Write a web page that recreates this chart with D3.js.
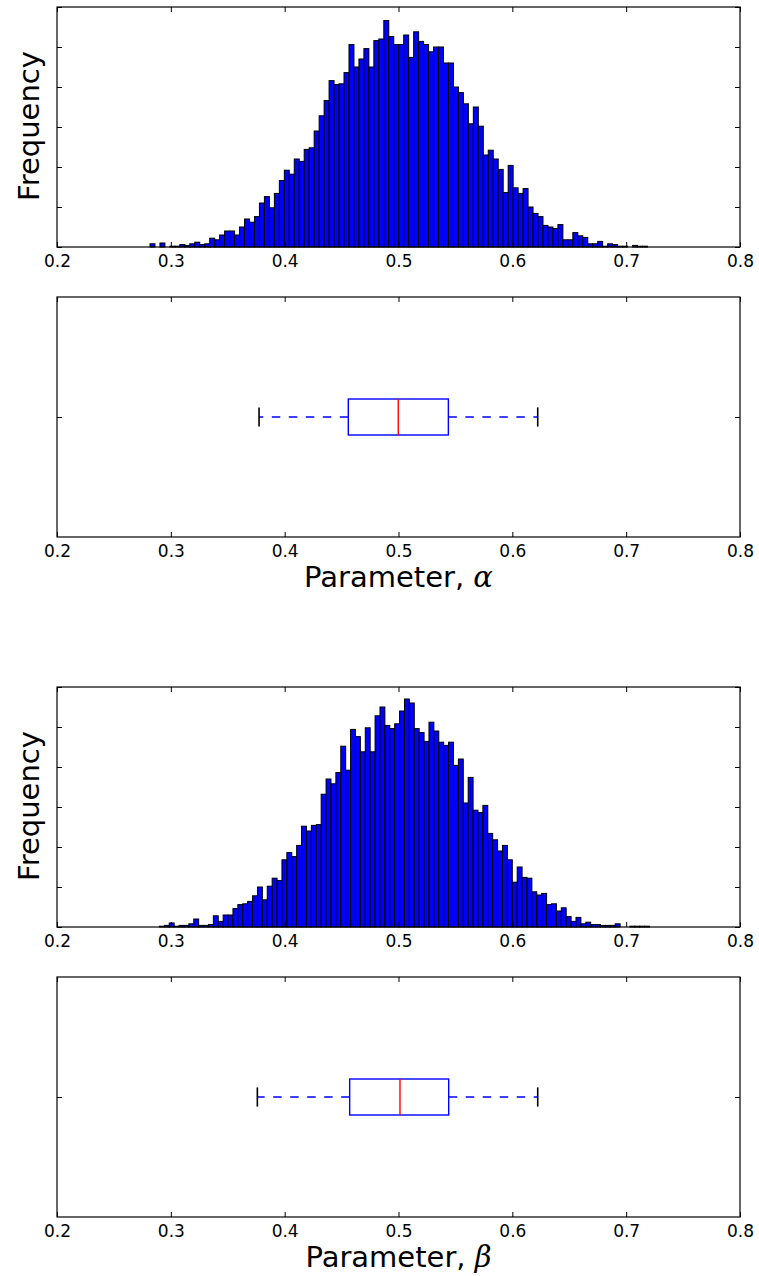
<!DOCTYPE html>
<html>
<head>
<meta charset="utf-8">
<script src="https://d3js.org/d3.v7.min.js"></script>
<style>
  * { margin: 0; padding: 0; }
  body { background: #fff; }
  svg text { font-family: "DejaVu Sans", sans-serif; fill: #000; }
</style>
</head>
<body>
<div id="chart"></div>
<script>
// x axis ticks shared by all four panels
const xTicks = [0.2, 0.3, 0.4, 0.5, 0.6, 0.7, 0.8];
const freqTicks = [0, 50, 100, 150, 200, 250, 300];

// histogram of alpha: 100 equal bins between alphaRange[0] and alphaRange[1]
const alphaRange = [0.2817, 0.7187];
const alphaCounts = [
  4, 0, 5, 0, 1, 1, 3, 2, 4, 6,
  3, 4, 11, 9, 15, 20, 20, 15, 25, 35,
  31, 38, 55, 63, 49, 67, 83, 96, 91, 110,
  107, 122, 124, 145, 164, 183, 208, 203, 204, 218,
  253, 225, 235, 248, 225, 258, 260, 283, 263, 253,
  253, 265, 237, 269, 257, 253, 244, 250, 250, 230,
  230, 200, 193, 179, 154, 175, 151, 115, 121, 110,
  97, 68, 102, 74, 67, 73, 50, 42, 38, 27,
  25, 23, 28, 9, 9, 18, 14, 12, 4, 4,
  7, 1, 4, 3, 1, 1, 0, 2, 1, 1
];

// histogram of beta
const betaRange = [0.2900, 0.7205];
const betaCounts = [
  1, 2, 5, 1, 2, 2, 4, 10, 2, 2,
  3, 14, 7, 15, 15, 23, 28, 29, 32, 39,
  50, 34, 51, 61, 58, 84, 93, 88, 102, 126,
  120, 127, 128, 166, 185, 179, 193, 226, 196, 247,
  238, 219, 249, 219, 264, 275, 252, 248, 254, 270,
  285, 280, 248, 243, 232, 256, 245, 231, 227, 231,
  202, 210, 155, 187, 146, 143, 152, 117, 109, 95,
  102, 84, 56, 75, 62, 61, 44, 40, 42, 28,
  29, 20, 24, 13, 7, 12, 4, 6, 3, 3,
  2, 2, 2, 4, 0, 0, 1, 1, 1, 1
];

// box plots: [lower whisker, q1, median, q3, upper whisker]
const alphaBox = [0.3775, 0.4559, 0.4998, 0.5438, 0.6223];
const betaBox = [0.3760, 0.4571, 0.5013, 0.5441, 0.6223];

const width = 759, height = 1276;
const left = 57, right = 740;
const tickLen = 5;

const svg = d3.select('#chart')
  .append('svg')
  .attr('width', width)
  .attr('height', height);

svg.append('rect').attr('width', width).attr('height', height).attr('fill', '#fff');

const x = d3.scaleLinear().domain([0.2, 0.8]).range([left, right]);

// frame + inward ticks on four sides
function frame(g, y, top, bottom, yTicks, showLabels) {
  const h = bottom - top;
  g.append('g')
    .attr('transform', `translate(0,${bottom})`)
    .call(d3.axisBottom(x).tickValues(xTicks).tickSizeInner(-tickLen).tickSizeOuter(0)
      .tickPadding(7.5).tickFormat(showLabels ? d3.format('.1f') : ''))
    .call(a => a.select('.domain').remove())
    .call(a => a.selectAll('text').attr('font-size', 17).attr('font-family', 'DejaVu Sans'));
  g.append('g')
    .attr('transform', `translate(0,${top})`)
    .call(d3.axisTop(x).tickValues(xTicks).tickSizeInner(-tickLen).tickSizeOuter(0).tickFormat(''))
    .call(a => a.select('.domain').remove());
  g.append('g')
    .attr('transform', `translate(${left},0)`)
    .call(d3.axisLeft(y).tickValues(yTicks).tickSizeInner(-tickLen).tickSizeOuter(0).tickFormat(''))
    .call(a => a.select('.domain').remove());
  g.append('g')
    .attr('transform', `translate(${right},0)`)
    .call(d3.axisRight(y).tickValues(yTicks).tickSizeInner(-tickLen).tickSizeOuter(0).tickFormat(''))
    .call(a => a.select('.domain').remove());
  g.selectAll('.tick line').attr('stroke', '#000').attr('stroke-width', 1);
  g.append('rect')
    .attr('x', left).attr('y', top)
    .attr('width', right - left).attr('height', h)
    .attr('fill', 'none').attr('stroke', '#000').attr('stroke-width', 1.2);
}

function histogram(top, bottom, range, counts) {
  const g = svg.append('g');
  const y = d3.scaleLinear().domain([0, 300]).range([bottom, top]);
  const n = counts.length;
  const bw = (range[1] - range[0]) / n;
  const bins = counts.map((c, i) => ({ x0: range[0] + i * bw, x1: range[0] + (i + 1) * bw, c: c }));
  g.selectAll('rect.bar')
    .data(bins)
    .enter()
    .append('rect')
    .attr('class', 'bar')
    .attr('x', d => x(d.x0))
    .attr('width', d => x(d.x1) - x(d.x0))
    .attr('y', d => y(d.c))
    .attr('height', d => y(0) - y(d.c))
    .attr('fill', '#0000ff')
    .attr('stroke', '#000')
    .attr('stroke-width', 1);
  frame(g, y, top, bottom, freqTicks, true);
  g.append('text')
    .attr('transform', `translate(39,${(top + bottom) / 2 - 1}) rotate(-90)`)
    .attr('text-anchor', 'middle')
    .attr('font-size', 29)
    .text('Frequency');
}

function boxplot(top, bottom, stats, symbol) {
  const g = svg.append('g');
  const y = d3.scaleLinear().domain([0.5, 1.5]).range([bottom, top]);
  const [lo, q1, med, q3, hi] = stats;
  const bh = 0.15, capH = 0.08;
  // whiskers start at box edge, go outward
  [[q1, lo], [q3, hi]].forEach(w => {
    g.append('line')
      .attr('x1', x(w[0])).attr('x2', x(w[1]))
      .attr('y1', y(1)).attr('y2', y(1))
      .attr('stroke', '#0000ff').attr('stroke-width', 1.4)
      .attr('stroke-dasharray', '8.5,8.5');
  });
  [lo, hi].forEach(v => {
    g.append('line')
      .attr('x1', x(v)).attr('x2', x(v))
      .attr('y1', y(1 - capH / 2)).attr('y2', y(1 + capH / 2))
      .attr('stroke', '#000').attr('stroke-width', 1.6);
  });
  g.append('rect')
    .attr('x', x(q1)).attr('y', y(1 + bh / 2))
    .attr('width', x(q3) - x(q1)).attr('height', y(1 - bh / 2) - y(1 + bh / 2))
    .attr('fill', 'none').attr('stroke', '#0000ff').attr('stroke-width', 1.4);
  g.append('line')
    .attr('x1', x(med)).attr('x2', x(med))
    .attr('y1', y(1 + bh / 2)).attr('y2', y(1 - bh / 2))
    .attr('stroke', '#ff0000').attr('stroke-width', 1.4);
  frame(g, y, top, bottom, [1], true);
  const lab = g.append('text')
    .attr('x', (left + right) / 2)
    .attr('y', bottom + 49.5)
    .attr('text-anchor', 'middle')
    .attr('font-size', 29);
  lab.append('tspan').text('Parameter, ');
  lab.append('tspan').attr('font-family', 'DejaVu Serif').attr('font-style', 'italic').text(symbol);
}

histogram(7, 247, alphaRange, alphaCounts);
boxplot(297, 537, alphaBox, 'α');
histogram(687, 927, betaRange, betaCounts);
boxplot(977, 1217, betaBox, 'β');
</script>
</body>
</html>
